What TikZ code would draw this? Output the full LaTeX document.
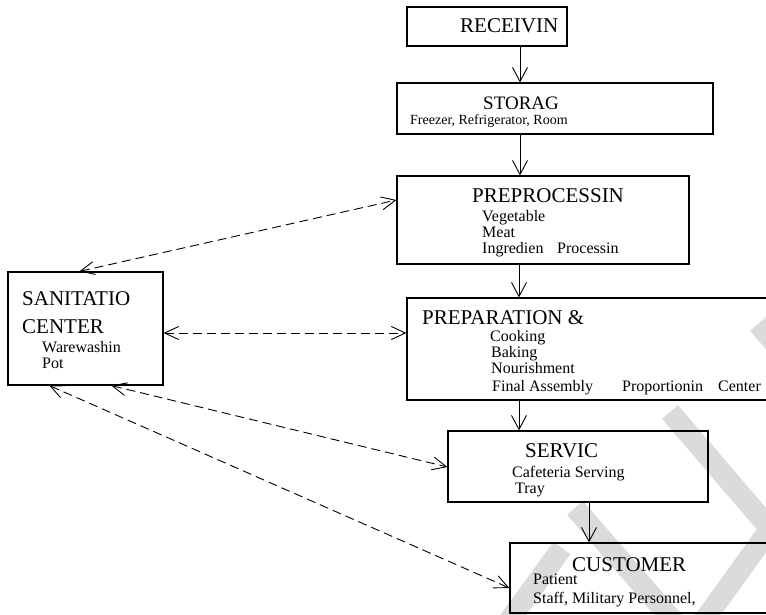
\documentclass[tikz,border=0pt]{standalone}
\usepackage{fontspec}
\setmainfont{Liberation Serif}
\usetikzlibrary{arrows.meta}
\tikzset{
  box/.style={draw=black, line width=1.2pt, rectangle, inner sep=0pt},
  ttl/.style={anchor=base west, inner sep=0pt, font=\fontsize{21}{24}\selectfont},
  sml/.style={anchor=base west, inner sep=0pt, font=\fontsize{16}{18}\selectfont},
  flow/.style={line width=0.9pt, -{Straight Barb[length=14pt,width=15pt]}},
  link/.style={line width=0.9pt, dash pattern=on 9pt off 5pt, {Straight Barb[length=14pt,width=13pt]}-{Straight Barb[length=14pt,width=13pt]}},
  wmark/.style={line width=21pt, color=black!14}
}
\begin{document}
\begin{tikzpicture}[x=1pt,y=-1pt]
\useasboundingbox (0,0) rectangle (766,615);
\clip (0,0) rectangle (766,615);
\fill[white] (0,0) rectangle (766,615);
% watermark stripes
\draw[wmark] (758,324) -- (800,372);
\draw[wmark] (670,412) -- (790,552);
\draw[wmark] (575,508) -- (690,640);
\draw[wmark] (562,548) -- (495,640);
\draw[wmark] (780,515) -- (690,640);
% boxes
\node[box, minimum width=160pt, minimum height=39pt] (recv) at (487,26.5) {};
\node[box, minimum width=316pt, minimum height=51pt] (stor) at (555,108.5) {};
\node[box, minimum width=292pt, minimum height=88pt] (prep) at (543,220) {};
\node[box, minimum width=370pt, minimum height=102pt] (prepa) at (592,349) {};
\node[box, minimum width=260pt, minimum height=71pt] (serv) at (578,466.5) {};
\node[box, minimum width=270pt, minimum height=70pt] (cust) at (645,578) {};
\node[box, minimum width=155pt, minimum height=113pt] (san) at (85.5,328.5) {};
% texts
\node[ttl] (t1) at (460,33) {RECEIVIN};
\node[ttl, font=\fontsize{19}{22}\selectfont] (t2) at (483,110) {STORAG};
\node[anchor=base west, inner sep=0pt, font=\fontsize{14}{16}\selectfont] (t2a) at (410,124.5) {Freezer, Refrigerator, Room};
\node[ttl] (t3) at (472,202) {PREPROCESSIN};
\node[sml] (t3a) at (482,221) {Vegetable};
\node[sml] (t3b) at (482,237) {Meat};
\node[sml] (t3c) at (482,253) {Ingredien};
\node[sml] (t3d) at (557,253) {Processin};
\node[ttl] (t4) at (422,324) {PREPARATION \&};
\node[sml] (t4a) at (490,341) {Cooking};
\node[sml] (t4b) at (491,357) {Baking};
\node[sml] (t4c) at (491,373) {Nourishment};
\node[sml] (t4d) at (492,391) {Final Assembly};
\node[sml] (t4e) at (622,391) {Proportionin};
\node[sml] (t4f) at (718,391) {Center};
\node[ttl] (t5) at (22,305) {SANITATIO};
\node[ttl] (t5b) at (22,333) {CENTER};
\node[sml] (t5c) at (42,352) {Warewashin};
\node[sml] (t5d) at (42,368) {Pot};
\node[ttl] (t6) at (525,457) {SERVIC};
\node[sml] (t6a) at (512,477) {Cafeteria Serving};
\node[sml] (t6b) at (515,493) {Tray};
\node[ttl] (t7) at (572,571) {CUSTOMER};
\node[sml] (t7a) at (533,584) {Patient};
\node[sml] (t7b) at (533,603) {Staff, Military Personnel,};
% flow arrows
\draw[flow] ([xshift=33pt]recv.south) -- ([xshift=33pt]recv.south |- stor.north);
\draw[flow] ([xshift=-35pt]stor.south) -- ([xshift=-35pt]stor.south |- prep.north);
\draw[flow] ([xshift=-24pt]prep.south) -- ([xshift=-24pt]prep.south |- prepa.north);
\draw[flow] ([xshift=-73pt]prepa.south) -- ([xshift=-73pt]prepa.south |- serv.north);
\draw[flow] ([xshift=11pt]serv.south) -- ([xshift=11pt]serv.south |- cust.north);
% dashed links
\draw[link] ([xshift=72pt]san.north west) -- ([yshift=20pt]prep.west);
\draw[link] ([yshift=-4.5pt]san.east) -- ([yshift=-4.5pt]san.east -| prepa.west);
\draw[link] ([xshift=104pt]san.south west) -- ([yshift=-0.5pt]serv.west);
\draw[link] ([xshift=42pt]san.south west) -- ([yshift=-10pt]cust.west);
\end{tikzpicture}
\end{document}
